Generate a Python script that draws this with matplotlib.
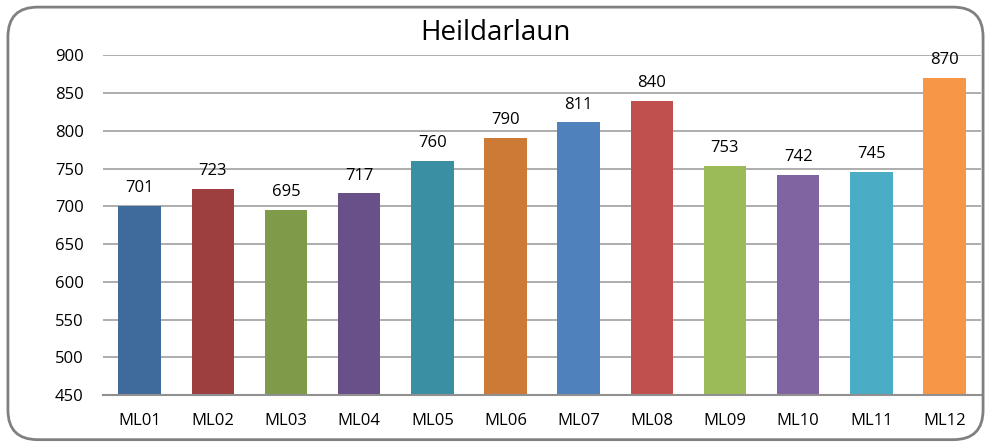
import matplotlib.pyplot as plt
from matplotlib.patches import FancyBboxPatch

categories = ['ML01', 'ML02', 'ML03', 'ML04', 'ML05', 'ML06',
              'ML07', 'ML08', 'ML09', 'ML10', 'ML11', 'ML12']
values = [701, 723, 695, 717, 760, 790, 811, 840, 753, 742, 745, 870]
colors = ['#3F6A9C', '#9E3F3F', '#7F9A48', '#6A5088', '#3B8FA3', '#CD7A37',
          '#4F81BD', '#C0504D', '#9BBB59', '#8064A2', '#4BACC6', '#F79646']

plt.rcParams['font.family'] = ['Open Sans', 'DejaVu Sans']

fig = plt.figure(figsize=(9.91, 4.45), dpi=100)
border = FancyBboxPatch((0.008, 0.012), 0.984, 0.972,
                        boxstyle='round,pad=0,rounding_size=0.03',
                        transform=fig.transFigure, fill=False,
                        edgecolor='#808080', linewidth=2, mutation_aspect=991/445)
fig.patches.append(border)

ax = fig.add_axes([0.104, 0.112, 0.886, 0.764])
x = range(len(categories))
ax.bar(x, values, width=0.58, color=colors, zorder=3)
for i, v in enumerate(values):
    ax.text(i, v + 13, str(v), ha='center', va='bottom', fontsize=12, zorder=4)

ax.set_ylim(450, 900)
ax.set_xlim(-0.5, len(categories) - 0.5)
ax.set_yticks(range(450, 901, 50))
ax.set_xticks(list(x))
ax.set_xticklabels(categories)
ax.tick_params(axis='both', length=0, labelsize=12)
ax.tick_params(axis='y', pad=14)
ax.tick_params(axis='x', pad=13)
ax.yaxis.grid(True, color='#A0A0A0', linewidth=1.2, zorder=0)
for s in ['left', 'right', 'top']:
    ax.spines[s].set_visible(False)
ax.spines['bottom'].set_color('#909090')
ax.spines['bottom'].set_linewidth(1.5)
ax.spines['bottom'].set_zorder(5)

fig.text(0.5, 0.926, 'Heildarlaun', ha='center', va='center', fontsize=20)

fig.savefig('out.png', dpi=100)
